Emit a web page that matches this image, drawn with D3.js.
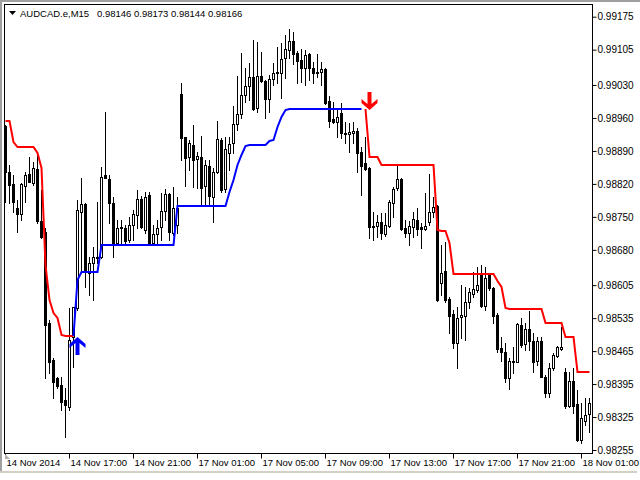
<!DOCTYPE html>
<html><head><meta charset="utf-8">
<script src="https://cdn.jsdelivr.net/npm/d3@7"></script>
<style>
html,body{margin:0;padding:0;background:#fff;}
svg{display:block;}
</style></head><body>
<svg id="c" width="640" height="480"></svg>
<script>
// ---- DATA (prices in points, 1 point = 0.00001) ----
const symbolLabel = "AUDCAD.e,M15";
const quoteLabel = "0.98146 0.98173 0.98144 0.98166";

// candle index 0 = 14 Nov 13:00, M15 bars
const open = [98942,98845,98819,98768,98756,98815,98841,98821,98851,98741,
98717,98524,98446,98407,98393,98361,98346,98494,98556,98760,
98777,98630,98652,98664,98664,98838,98830,98779,98694,98726,
98726,98700,98732,98754,98787,98722,98796,98694,98713,98728,
98762,98798,98715,98732,99010,98919,98877,98902,98872,98877,
98815,98858,98792,98845,98913,98809,98885,98906,98947,98968,
99008,99027,99047,98981,99049,99038,99000,99042,99055,99055,
99087,99104,99123,99097,99083,99066,99095,99066,99057,99057,
99063,98996,98957,98951,98970,98928,98925,98928,98932,98887,
98864,98853,98730,98730,98739,98713,98730,98779,98811,98830,
98726,98715,98728,98743,98728,98724,98739,98760,98773,98609,
98635,98575,98543,98482,98537,98539,98569,98586,98594,98630,
98560,98626,98599,98541,98471,98463,98407,98441,98441,98520,
98480,98511,98486,98444,98486,98410,98376,98429,98454,98469,
98420,98348,98401,98352,98276,98316,98331];
const high = [98945,98860,98838,98785,98821,98845,98877,98866,98885,98807,
98726,98531,98450,98410,98410,98386,98556,98558,98785,98832,
98779,98664,98686,98781,98855,98972,98838,98792,98743,98743,
98732,98749,98764,98807,98794,98802,98802,98732,98743,98800,
98809,98800,98813,98792,99034,98919,98913,98945,98887,98921,
98870,98870,98853,98953,98917,98919,98919,98985,99049,99097,
99066,99076,99125,99121,99100,99040,99051,99076,99110,99119,
99136,99148,99142,99102,99106,99104,99097,99078,99095,99078,
99066,99006,98993,98981,98991,98951,98949,98951,98938,98898,
98919,98855,98760,98754,98758,98758,98785,98813,98858,98832,
98743,98741,98760,98768,98737,98800,98841,98792,98775,98690,
98696,98579,98552,98558,98605,98601,98599,98633,98643,98647,
98643,98630,98601,98545,98494,98482,98450,98473,98524,98535,
98524,98550,98503,98494,98494,98414,98439,98461,98475,98516,
98429,98420,98429,98382,98354,98365,98365];
const low = [98781,98779,98760,98717,98743,98781,98824,98817,98737,98705,
98407,98418,98365,98386,98339,98282,98339,98431,98552,98637,
98601,98584,98573,98652,98662,98832,98737,98664,98690,98690,
98690,98696,98700,98726,98726,98715,98692,98690,98694,98700,
98743,98700,98711,98715,98870,98815,98849,98813,98811,98775,
98775,98775,98739,98843,98802,98802,98849,98885,98934,98959,
98993,98998,98976,98972,99036,98959,98972,99030,99034,99002,
99044,99087,99074,99034,99036,99030,99040,99034,99047,99030,
98989,98940,98949,98919,98917,98906,98887,98906,98845,98796,
98849,98705,98700,98707,98703,98709,98728,98749,98807,98722,
98707,98690,98707,98711,98683,98722,98732,98749,98571,98584,
98569,98503,98471,98429,98492,98488,98556,98579,98590,98558,
98552,98594,98524,98463,98444,98399,98384,98418,98441,98473,
98467,98467,98420,98435,98410,98367,98367,98424,98452,98467,
98344,98346,98333,98274,98269,98308,98293];
const close = [98845,98817,98781,98756,98819,98838,98824,98853,98741,98707,
98520,98441,98399,98390,98356,98350,98488,98558,98764,98777,
98633,98652,98664,98662,98834,98832,98779,98694,98726,98728,
98698,98732,98756,98787,98728,98792,98692,98713,98726,98762,
98798,98717,98768,98768,98917,98875,98906,98870,98879,98811,
98860,98794,98845,98915,98807,98894,98904,98947,98968,99008,
99027,99047,98979,99049,99038,99000,99042,99055,99057,99085,
99106,99123,99095,99080,99066,99093,99066,99055,99055,99063,
98991,98953,98951,98962,98928,98925,98930,98932,98885,98858,
98851,98728,98728,98739,98715,98732,98781,98809,98830,98724,
98715,98730,98745,98724,98724,98730,98760,98771,98573,98630,
98573,98539,98482,98535,98541,98569,98590,98596,98605,98560,
98620,98599,98539,98469,98463,98407,98444,98444,98522,98478,
98511,98486,98441,98486,98410,98376,98429,98456,98473,98473,
98348,98401,98348,98276,98323,98329,98354];

// trailing stop lines
const redStartA = 0;
const redA = [98954,98953,98909,98898,98898,98898,98898,98898,98885,98853,
98647,98573,98545,98535,98499,98497,98497,98497];
const blueStart = 17;
const blue = [98497,98616,98633,98633,98633,98633,98633,98690,
98690,98690,98690,98690,98690,98690,98690,98690,98690,98690,98690,98690,98690,98690,98690,98690,98690,98690,
98773,98773,98773,98773,98773,98773,98773,98773,98773,98773,98773,98773,98773,
98802,98828,98860,98881,98900,
98902,98902,98902,98902,98902,
98911,98914,98940,98962,98976,
98979,98979,98979,98979,98979,98979,98979,98979,98979,98979,98979,98979,98979,98979,98979,98979,98979,98979,98979];
const redStartB = 90;
const redB = [98979,98877,98877,98877,
98860,98860,98860,98860,98860,98860,98860,98860,98860,98860,98860,98860,98860,98860,
98722,98720,98720,98694,
98628,98628,98628,98628,98628,98628,98628,98628,98628,98628,98628,
98613,98601,98556,
98554,98554,98554,98554,98554,98554,98554,98554,98554,
98524,98524,98524,98524,98524,
98494,98494,98494,
98420,98420,98420,98420];

// signal arrows
const upArrows = [{i: 18, p: 98494}];
const downArrows = [{i: 91, p: 98979}];

// axis tick labels
const yTickLabels = ["0.99175","0.99105","0.99030","0.98960","0.98890","0.98820","0.98750",
  "0.98680","0.98605","0.98535","0.98465","0.98395","0.98325","0.98255"];
const xTickIndex = [0,16,32,48,64,80,96,112,128,144];
const xTickLabels = ["14 Nov 2014","14 Nov 17:00","14 Nov 21:00","17 Nov 01:00","17 Nov 05:00",
  "17 Nov 09:00","17 Nov 13:00","17 Nov 17:00","17 Nov 21:00","18 Nov 01:00"];

// ---- DRAW ----
const FONT = 'Tahoma, "Liberation Sans", Arial, sans-serif';
const svg = d3.select("#c");
const N = open.length;
const pt = v => v / 1e5;
const yTickVals = yTickLabels.map(Number);

const x = d3.scaleLinear().domain([0, N - 1]).range([5, 589]);
const y = d3.scaleLinear().domain([d3.min(yTickVals), d3.max(yTickVals)]).range([450, 16.7]);

svg.append("rect").attr("width", 640).attr("height", 480).attr("fill", "#fff");

// window edges
svg.append("rect").attr("x", 0).attr("y", 0).attr("width", 640).attr("height", 2).attr("fill", "#a0a0a0");
svg.append("rect").attr("x", 0).attr("y", 0).attr("width", 2).attr("height", 473).attr("fill", "#a0a0a0");
svg.append("rect").attr("x", 0).attr("y", 471).attr("width", 637).attr("height", 2).attr("fill", "#d4d0c8");

svg.append("defs").append("clipPath").attr("id", "plot")
  .append("rect").attr("x", 5).attr("y", 5).attr("width", 587).attr("height", 448);

const plot = svg.append("g").attr("clip-path", "url(#plot)");

const candles = d3.range(N).map(i => ({
  i, o: pt(open[i]), h: pt(high[i]), l: pt(low[i]), c: pt(close[i])
}));

// wicks
plot.append("g").selectAll("line").data(candles).join("line")
  .attr("x1", d => Math.round(x(d.i)) + 0.5)
  .attr("x2", d => Math.round(x(d.i)) + 0.5)
  .attr("y1", d => Math.round(y(d.h)))
  .attr("y2", d => Math.round(y(d.l)) + 1)
  .attr("stroke", "#000").attr("stroke-width", 1);

// bodies
const bodies = plot.append("g");
bodies.selectAll("rect.bear").data(candles.filter(d => d.c < d.o)).join("rect")
  .attr("class", "bear")
  .attr("x", d => Math.round(x(d.i)) - 1)
  .attr("y", d => Math.round(y(d.o)))
  .attr("width", 3)
  .attr("height", d => Math.max(1, Math.round(y(d.c)) - Math.round(y(d.o)) + 1))
  .attr("fill", "#000");
bodies.selectAll("rect.bull").data(candles.filter(d => d.c >= d.o)).join("rect")
  .attr("class", "bull")
  .attr("x", d => Math.round(x(d.i)) - 0.5)
  .attr("y", d => Math.round(y(d.c)) + 0.5)
  .attr("width", 2)
  .attr("height", d => Math.max(1, Math.round(y(d.o)) - Math.round(y(d.c))))
  .attr("fill", "#fff").attr("stroke", "#000").attr("stroke-width", 1);

// stop lines
const lineGen = d3.line().x(d => x(d.i) + 0.5).y(d => Math.round(y(d.v)));
const seg = (start, arr) => arr.map((v, k) => ({ i: start + k, v: pt(v) }));
plot.append("path").datum(seg(redStartA, redA)).attr("d", lineGen)
  .attr("fill", "none").attr("stroke", "#ff0000").attr("stroke-width", 2);
plot.append("path").datum(seg(blueStart, blue)).attr("d", lineGen)
  .attr("fill", "none").attr("stroke", "#0000ff").attr("stroke-width", 2);
plot.append("path").datum(seg(redStartB, redB)).attr("d", lineGen)
  .attr("fill", "none").attr("stroke", "#ff0000").attr("stroke-width", 2);

// arrows
const arrowPath = "M0,0 L8,7 L8,11 L2,6 L2,18 L-2,18 L-2,6 L-8,11 L-8,7 Z";
plot.append("g").selectAll("path").data(upArrows).join("path")
  .attr("d", arrowPath)
  .attr("transform", d => `translate(${x(d.i) + 0.5},${Math.round(y(pt(d.p)))})`)
  .attr("fill", "#0000ff");
plot.append("g").selectAll("path").data(downArrows).join("path")
  .attr("d", arrowPath)
  .attr("transform", d => `translate(${x(d.i) + 0.5},${Math.round(y(pt(d.p))) + 1}) scale(1,-1)`)
  .attr("fill", "#ff0000");

// frame
svg.append("rect").attr("x", 4.5).attr("y", 4.5).attr("width", 588).attr("height", 449)
  .attr("fill", "none").attr("stroke", "#000").attr("stroke-width", 1);

// y axis (right)
const yAxis = d3.axisRight(y).tickValues(yTickVals)
  .tickFormat((d, k) => yTickLabels[k]).tickSize(4).tickPadding(1);
const gy = svg.append("g").attr("transform", "translate(592.5,0)").call(yAxis);
gy.select(".domain").remove();
gy.selectAll("text").attr("font-family", FONT).attr("font-size", 10).attr("fill", "#000");
gy.selectAll("line").attr("stroke", "#000");

// x axis (bottom)
const xAxis = d3.axisBottom(x).tickValues(xTickIndex)
  .tickFormat((d, k) => xTickLabels[k]).tickSize(5).tickPadding(1);
const gx = svg.append("g").attr("transform", "translate(0,453.5)").call(xAxis);
gx.select(".domain").remove();
gx.selectAll("text").attr("font-family", FONT).attr("font-size", 9.5)
  .attr("text-anchor", "start").attr("x", 1).attr("fill", "#000");
gx.selectAll("line").attr("stroke", "#000");

// small shift marker
svg.append("path").attr("d", "M5,454 L5,459 L10,459 Z").attr("fill", "#b0b0b0");

// title
svg.append("path").attr("d", "M9,11 L16,11 L12.5,15 Z").attr("fill", "#000");
svg.append("text").attr("x", 20).attr("y", 17).attr("font-family", FONT).attr("font-size", 9.5)
  .attr("fill", "#000").text(symbolLabel);
svg.append("text").attr("x", 97).attr("y", 17).attr("font-family", FONT).attr("font-size", 9.5)
  .attr("fill", "#000").text(quoteLabel);
</script>
</body></html>
